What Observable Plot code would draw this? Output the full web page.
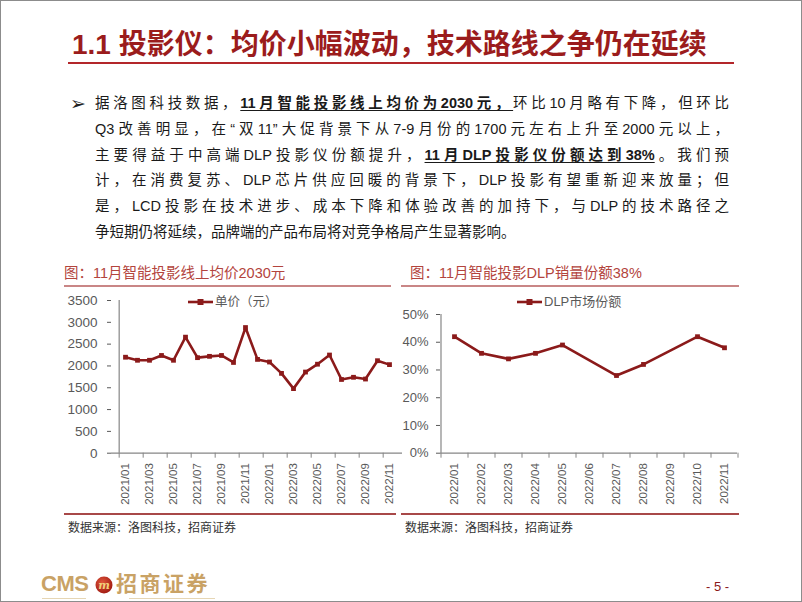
<!DOCTYPE html>
<html><head><meta charset="utf-8">
<script src="https://cdn.jsdelivr.net/npm/d3@7"></script>
<script src="https://cdn.jsdelivr.net/npm/@observablehq/plot@0.6"></script>
<style>
html,body{margin:0;padding:0;background:#fff;}
#page{position:relative;box-sizing:border-box;width:802px;height:602px;border:1px solid #8c8c8c;overflow:hidden;
  font-family:"Liberation Sans","Noto Sans CJK SC",sans-serif;background:#fff;}
.abs{position:absolute;white-space:nowrap;}
#title{left:71px;top:26px;font-size:28px;font-weight:bold;color:#9b1c1c;line-height:36px;}
#titleLine{left:67px;top:61px;width:666px;height:2px;background:#b3262a;}
#bullet{left:69px;top:90px;font-family:"DejaVu Sans";font-size:19px;line-height:24px;color:#222;}
#body{left:94px;top:90px;width:634px;font-size:14.5px;color:#1a1a1a;}
#body div{height:25.8px;line-height:25.8px;text-align:justify;text-align-last:justify;white-space:nowrap;}
#body div.last{text-align-last:left;}
#body b{text-decoration:underline;text-underline-offset:2px;}
.ctitle{top:262px;font-size:14.5px;color:#b3443d;line-height:20px;}
.hline{height:1.5px;background:#c98686;}
.bline{height:2px;background:#a84848;}
.src{top:518px;font-size:12px;color:#333;line-height:18px;}
.legend{top:293px;font-size:12.5px;color:#595959;line-height:16px;display:flex;align-items:center;gap:2px;}
.chart{position:absolute;top:288px;}
#cms{left:40px;top:569px;font-size:22px;font-weight:bold;color:#c9a265;line-height:28px;letter-spacing:-0.5px;}
#zs{left:115px;top:569px;font-size:21px;font-weight:bold;color:#c9a265;line-height:28px;letter-spacing:2.5px;}
#pg{left:705px;top:577px;font-size:13px;color:#8b1a1a;line-height:18px;}
.fline{height:1px;background:#e6d6b4;}
</style>
</head><body>
<div id="page">
  <div class="abs" id="title">1.1 投影仪：均价小幅波动，技术路线之争仍在延续</div>
  <div class="abs" id="titleLine"></div>
  <div class="abs" id="bullet">➢</div>
  <div class="abs" id="body">
    <div>据洛图科技数据，<b>11月智能投影线上均价为2030元，</b>环比10月略有下降，但环比</div>
    <div>Q3改善明显，在“双11”大促背景下从7-9月份的1700元左右上升至2000元以上，</div>
    <div>主要得益于中高端DLP投影仪份额提升，<b>11月DLP投影仪份额达到38%</b>。我们预</div>
    <div>计，在消费复苏、DLP芯片供应回暖的背景下，DLP投影有望重新迎来放量；但</div>
    <div>是，LCD投影在技术进步、成本下降和体验改善的加持下，与DLP的技术路径之</div>
    <div class="last">争短期仍将延续，品牌端的产品布局将对竞争格局产生显著影响。</div>
  </div>

  <div class="abs ctitle" style="left:63px">图：11月智能投影线上均价2030元</div>
  <div class="abs ctitle" style="left:409px">图：11月智能投影DLP销量份额38%</div>
  <div class="abs hline" style="left:63px;top:284px;width:327px"></div>
  <div class="abs hline" style="left:400px;top:284px;width:338px"></div>

  <div id="chart1" class="chart" style="left:60px"></div>
  <div id="chart2" class="chart" style="left:400px"></div>

  <div class="abs legend" style="left:187px" id="leg1"></div>
  <div class="abs legend" style="left:516px;font-size:13px" id="leg2"></div>

  <div class="abs bline" style="left:63px;top:512px;width:332px"></div>
  <div class="abs bline" style="left:400px;top:512px;width:338px"></div>
  <div class="abs src" style="left:67px">数据来源：洛图科技，招商证券</div>
  <div class="abs src" style="left:404px">数据来源：洛图科技，招商证券</div>

  <div class="abs" id="cms">CMS</div>
  <svg class="abs" style="left:94px;top:575px" width="18" height="18">
    <defs><radialGradient id="lg" cx="40%" cy="35%" r="65%"><stop offset="0" stop-color="#e0553a"/><stop offset="1" stop-color="#a31d14"/></radialGradient></defs>
    <circle cx="9" cy="9" r="8.5" fill="url(#lg)"/>
    <text x="9" y="13" text-anchor="middle" font-family="DejaVu Serif" font-style="italic" font-weight="bold" font-size="11" fill="#f1cf7a">m</text>
  </svg>
  <div class="abs" id="zs">招商证券</div>
  <div class="abs fline" style="left:41px;top:597px;width:44px"></div>
  <div class="abs fline" style="left:128px;top:597px;width:86px"></div>
  <div class="abs" id="pg">- 5 -</div>
</div>

<script>
// ---- Data ----
const priceMonths = ["2021/01","2021/02","2021/03","2021/04","2021/05","2021/06","2021/07","2021/08","2021/09","2021/10","2021/11","2021/12",
  "2022/01","2022/02","2022/03","2022/04","2022/05","2022/06","2022/07","2022/08","2022/09","2022/10","2022/11"];
const priceValues = [2200,2130,2130,2240,2130,2660,2190,2220,2240,2080,2880,2150,2090,1830,1480,1860,2040,2250,1690,1740,1700,2120,2030];
const priceSeriesName = "单价（元）";

const shareMonths = ["2022/01","2022/02","2022/03","2022/04","2022/05","2022/06","2022/07","2022/08","2022/09","2022/10","2022/11"];
const shareValues = [0.42,0.36,0.34,0.36,0.39,null,0.28,0.32,null,0.42,0.38];
const shareSeriesName = "DLP市场份额";

const priceTicks = [0,500,1000,1500,2000,2500,3000,3500];
const shareTicks = [0,0.1,0.2,0.3,0.4,0.5];

const LINE = "#8b1a1a";
const AXIS = "#868686";
const FONT = '"Liberation Sans","Noto Sans CJK SC",sans-serif';

function lineChart(o) {
  const data = o.months.map((m, i) => ({m, v: o.values[i]})).filter(d => d.v != null);
  const n = o.months.length;
  const step = (o.width - o.ml - o.mr) / n;
  const tickMonths = o.months.filter((_, i) => i % o.tickEvery === 0);
  const labelMonths = o.months.filter((_, i) => i % o.labelEvery === 0);
  const plotH = o.height - o.mt - o.mb;
  const marks = [
    Plot.ruleY([0], {stroke: AXIS, strokeWidth: 1.2}),
    Plot.ruleX([o.months[0]], {dx: -step / 2, stroke: AXIS, strokeWidth: 1.2}),
    Plot.tickX(tickMonths, {x: d => d, dx: -step / 2, insetTop: plotH, insetBottom: -5, stroke: AXIS}),
    Plot.text(labelMonths, {x: d => d, frameAnchor: "bottom", rotate: -90, textAnchor: "end", lineAnchor: "middle",
      dy: 10, fontSize: 11.5, fill: "#595959"}),
    Plot.line(data, {x: "m", y: "v", stroke: LINE, strokeWidth: 2.6, strokeLinejoin: "miter"}),
    Plot.dot(data, {x: "m", y: "v", symbol: "square", r: 2.7, fill: LINE, stroke: "none"})
  ];
  if (o.endTick) marks.push(Plot.tickX([o.months[n - 1]], {x: d => d, dx: step / 2, insetTop: plotH, insetBottom: -5, stroke: AXIS}));
  return Plot.plot({
    width: o.width, height: o.height,
    marginLeft: o.ml, marginRight: o.mr, marginTop: o.mt, marginBottom: o.mb,
    style: {fontFamily: FONT, fontSize: o.yFontSize, color: "#595959", background: "transparent", overflow: "visible"},
    x: {type: "point", domain: o.months, padding: 0.5, axis: null},
    y: {domain: [0, o.yMax], ticks: o.yTicks, tickFormat: o.yFormat, tickSize: 4, tickPadding: o.tickPadding, label: null},
    marks
  });
}

document.getElementById("chart1").append(lineChart({
  months: priceMonths, values: priceValues, tickEvery: 2, labelEvery: 2,
  yMax: 3500, yTicks: priceTicks, yFormat: d => String(d), tickPadding: 10, yFontSize: "13.5px",
  width: 345, height: 225, ml: 50, mr: 4, mt: 11, mb: 61.3, endTick: false
}));
document.getElementById("chart2").append(lineChart({
  months: shareMonths, values: shareValues, tickEvery: 1, labelEvery: 1,
  yMax: 0.5, yTicks: shareTicks, yFormat: d3.format(".0%"), tickPadding: 8, yFontSize: "13px",
  width: 340, height: 225, ml: 39, mr: 4, mt: 25, mb: 61.3, endTick: true
}));

function legendHTML(name) {
  return `<svg width="25" height="10"><line x1="0" y1="5" x2="25" y2="5" stroke="${LINE}" stroke-width="2.6"/>` +
    `<rect x="9.5" y="2" width="6" height="6" fill="${LINE}"/></svg><span>${name}</span>`;
}
document.getElementById("leg1").innerHTML = legendHTML(priceSeriesName);
document.getElementById("leg2").innerHTML = legendHTML(shareSeriesName);
</script>
</body></html>
